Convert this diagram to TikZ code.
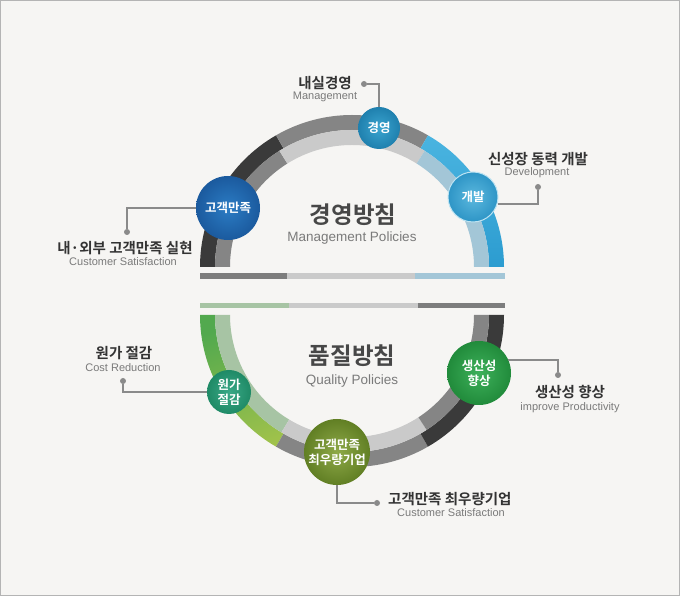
\documentclass[tikz,border=0pt]{standalone}
\usepackage{fontspec}
\setmainfont{Noto Sans CJK KR}[BoldFont={Noto Sans CJK KR Bold}]
\newfontfamily\enfont{Liberation Sans}
\definecolor{bgcol}{HTML}{F6F5F3}
\definecolor{framecol}{HTML}{B4B4B4}
\definecolor{ringdark}{HTML}{3A3A3A}
\definecolor{ringgrey}{HTML}{858585}
\definecolor{ringlight}{HTML}{CACACA}
\definecolor{ringblueA}{HTML}{4AB4E0}
\definecolor{ringblueB}{HTML}{2C9CD0}
\definecolor{ringbluelight}{HTML}{A3C6D7}
\definecolor{ringgreenA}{HTML}{52A94E}
\definecolor{ringgreenB}{HTML}{A7C44B}
\definecolor{ringgreenlight}{HTML}{A7C4A4}
\definecolor{bargrey}{HTML}{7D7D7D}
\definecolor{textdark}{HTML}{333333}
\definecolor{textgrey}{HTML}{7A7A7A}
\definecolor{leadgrey}{HTML}{8A8A8A}
\definecolor{gogaekA}{HTML}{2B7CC4}
\definecolor{gogaekB}{HTML}{1B5A9E}
\definecolor{kyeongA}{HTML}{3AA4CF}
\definecolor{kyeongB}{HTML}{1F80AE}
\definecolor{gaebalA}{HTML}{5BB8DE}
\definecolor{gaebalB}{HTML}{2E95C6}
\definecolor{wongaA}{HTML}{39A886}
\definecolor{wongaB}{HTML}{1F8A66}
\definecolor{choeA}{HTML}{8EA948}
\definecolor{choeB}{HTML}{617F24}
\definecolor{saengA}{HTML}{3DB05A}
\definecolor{saengB}{HTML}{218B3B}
\begin{document}
\begin{tikzpicture}[x=1pt,y=1pt,line cap=round,
		kor/.style={font=\bfseries\fontsize{14.5}{16}\selectfont,text=textdark,inner sep=0},
		eng/.style={font=\enfont\fontsize{11}{13}\selectfont,text=textgrey,inner sep=0},
		title/.style={font=\bfseries\fontsize{23.5}{26}\selectfont,text=textdark!90!white,inner sep=0},
		subtitle/.style={font=\enfont\fontsize{13.5}{15}\selectfont,text=textgrey,inner sep=0},
		ball/.style 2 args={circle,inner sep=0,inner color=#1,outer color=#2,text=white,align=center,font=\bfseries\fontsize{12.5}{15}\selectfont},
		leader/.style={draw=leadgrey,line width=1.5pt,line cap=butt},
		dot/.style={circle,fill=leadgrey,inner sep=0,minimum size=6pt}]
	\useasboundingbox (0,0) rectangle (680,596);
	\fill[bgcol] (0,0) rectangle (680,596);
	\draw[framecol,line width=1pt] (0.5,0.5) rectangle (679.5,595.5);
	\coordinate (T) at (352,329);
	\coordinate (B) at (352,281);
	% upper ring
	\foreach \a/\b/\c in {120/180/ringdark,60/120/ringgrey}
		\fill[\c] (T) ++(\a:152) arc[start angle=\a,end angle=\b,radius=152] -- ++(\b+180:15) arc[start angle=\b,end angle=\a,radius=137] -- cycle;
	\shade[top color=ringblueA,bottom color=ringblueB] (T) ++(0:152) arc[start angle=0,end angle=60,radius=152] -- ++(240:15) arc[start angle=60,end angle=0,radius=137] -- cycle;
	\foreach \a/\b/\c in {122/180/ringgrey,58/122/ringlight,0/58/ringbluelight}
		\fill[\c] (T) ++(\a:137) arc[start angle=\a,end angle=\b,radius=137] -- ++(\b+180:15) arc[start angle=\b,end angle=\a,radius=122] -- cycle;
	\fill[bargrey] (200,317) rectangle (287,323);
	\fill[ringlight] (287,317) rectangle (415,323);
	\fill[ringbluelight] (415,317) rectangle (505,323);
	% lower ring
	\shade[top color=ringgreenA,bottom color=ringgreenB,shading angle=20] (B) ++(180:152) arc[start angle=180,end angle=240,radius=152] -- ++(60:15) arc[start angle=240,end angle=180,radius=137] -- cycle;
	\foreach \a/\b/\c in {240/300/ringgrey,300/360/ringdark}
		\fill[\c] (B) ++(\a:152) arc[start angle=\a,end angle=\b,radius=152] -- ++(\b+180:15) arc[start angle=\b,end angle=\a,radius=137] -- cycle;
	\foreach \a/\b/\c in {180/239/ringgreenlight,239/303/ringlight,303/360/ringgrey}
		\fill[\c] (B) ++(\a:137) arc[start angle=\a,end angle=\b,radius=137] -- ++(\b+180:15) arc[start angle=\b,end angle=\a,radius=122] -- cycle;
	\fill[ringgreenlight] (200,288) rectangle (289,293);
	\fill[ringlight] (289,288) rectangle (418,293);
	\fill[bargrey] (418,288) rectangle (505,293);
	% titles
	\node[title] (mtitle) at (353,381) {경영방침};
	\node[subtitle] (msub) at (352,358) {Management Policies};
	\node[title] (qtitle) at (352,240) {품질방침};
	\node[subtitle] (qsub) at (352,215) {Quality Policies};
	% circles
	\node[ball={kyeongA}{kyeongB},minimum size=42pt] (kyeong) at (379,468) {경영};
	\node[ball={gogaekA}{gogaekB},minimum size=64pt] (gogaek) at (228,388) {고객만족};
	\node[ball={gaebalA}{gaebalB},minimum size=50pt,draw=gaebalA!40!white,line width=1pt] (gaebal) at (473,399) {개발};
	\node[ball={wongaA}{wongaB},minimum size=44pt] (wonga) at (229,204) {원가\\절감};
	\node[ball={choeA}{choeB},minimum size=66pt] (choe) at (337,144) {고객만족\\최우량기업};
	\node[ball={saengA}{saengB},minimum size=64pt] (saeng) at (479,223) {생산성\\향상};
	% leaders
	\node[dot] (d1) at (364,512) {};
	\node[dot] (d2) at (127,364) {};
	\node[dot] (d3) at (538,409) {};
	\node[dot] (d4) at (123,215) {};
	\node[dot] (d5) at (558,221) {};
	\node[dot] (d6) at (377,93) {};
	\draw[leader] (kyeong.north) |- (d1);
	\draw[leader] (gogaek.west) -| (d2);
	\draw[leader] (gaebal.-16) -| (d3);
	\draw[leader] (wonga.west) -| (d4);
	\draw[leader] (saeng.24) -| (d5);
	\draw[leader] (choe.south) |- (d6);
	% labels
	\node[kor] (l1) at (325,513) {내실경영};
	\node[eng] (e1) at (325,499) {Management};
	\node[kor] (l2) at (125,348) {내·외부 고객만족 실현};
	\node[eng] (e2) at (123,334) {Customer Satisfaction};
	\node[kor] (l3) at (538,437) {신성장 동력 개발};
	\node[eng] (e3) at (537,423) {Development};
	\node[kor] (l4) at (124,243) {원가 절감};
	\node[eng] (e4) at (123,228) {Cost Reduction};
	\node[kor] (l5) at (570,204) {생산성 향상};
	\node[eng] (e5) at (570,188) {improve Productivity};
	\node[kor,anchor=west] (l6) at (388,97) {고객만족 최우량기업};
	\node[eng] (e6) at (451,83) {Customer Satisfaction};
\end{tikzpicture}
\end{document}
